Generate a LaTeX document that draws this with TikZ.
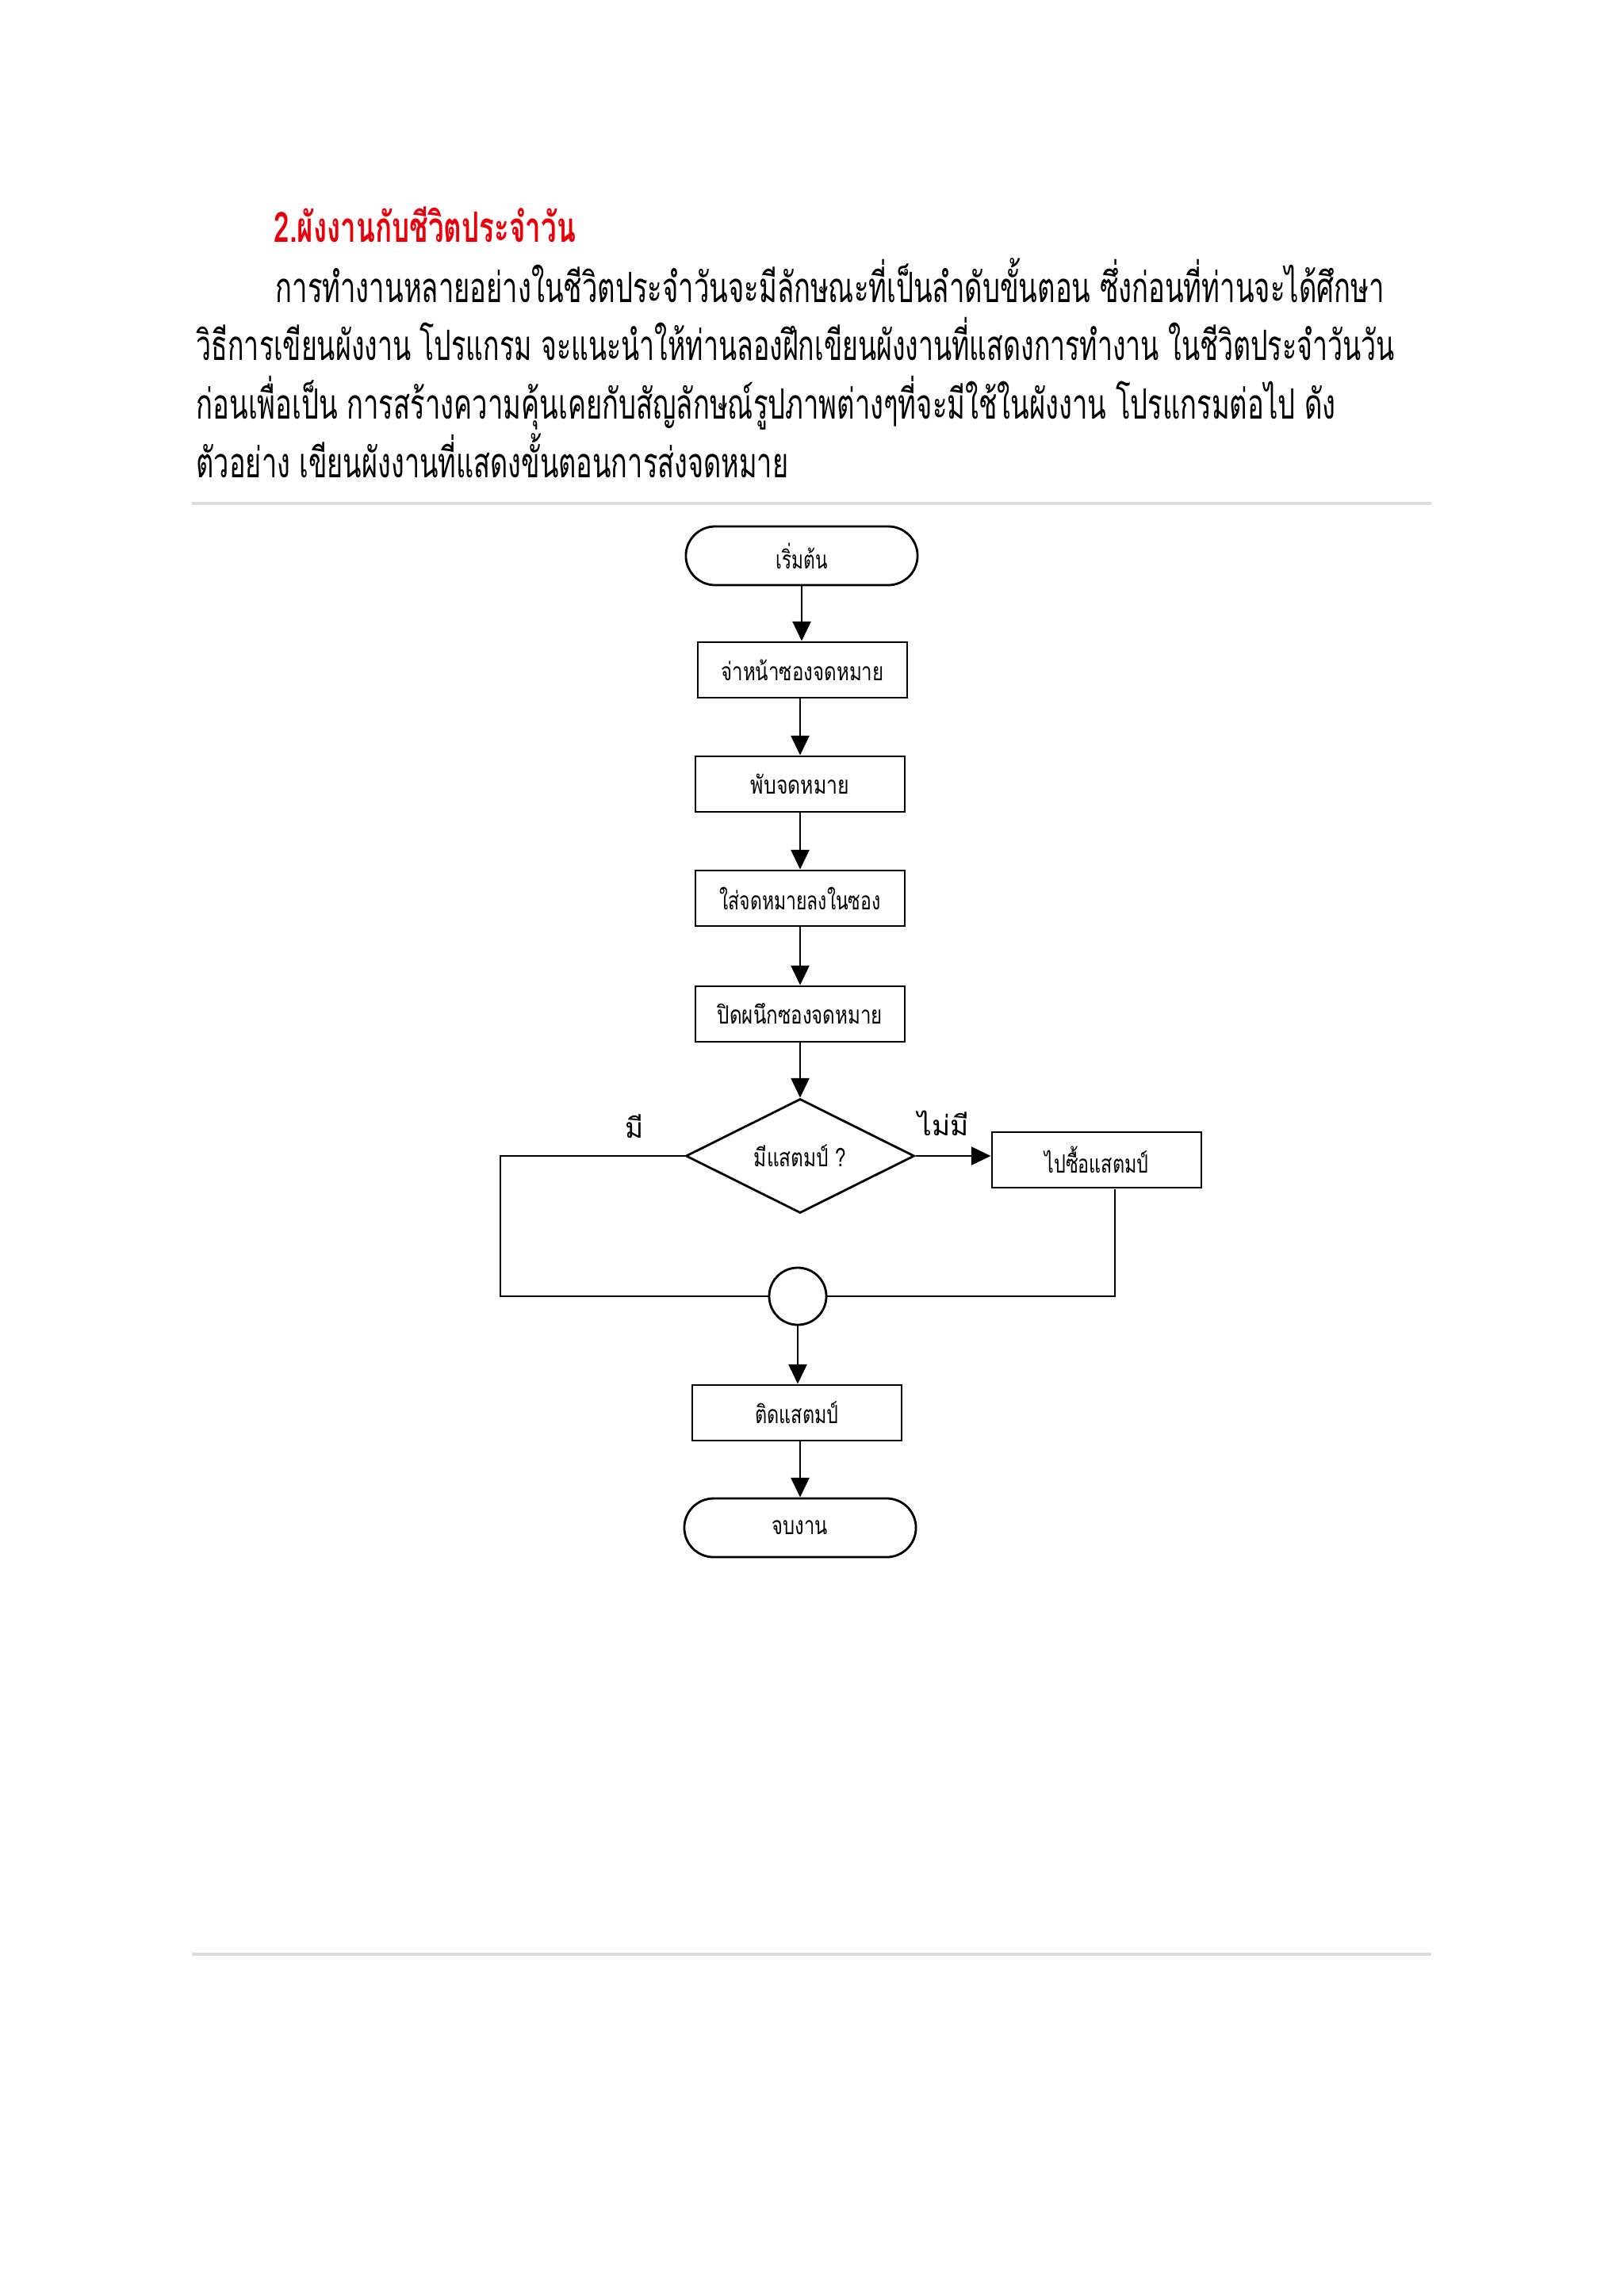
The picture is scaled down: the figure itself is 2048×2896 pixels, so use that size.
\documentclass[tikz,border=0pt]{standalone}
\usepackage{fontspec}
\usepackage{graphicx}
\usetikzlibrary{arrows.meta,shapes.geometric}
\setmainfont{Liberation Serif}
\newfontfamily\thaifont[Script=Thai]{Loma}
\newcommand{\fitw}[2]{\resizebox{#1}{\height}{#2}}
\definecolor{rulegray}{HTML}{DCDCDC}
\definecolor{titlered}{HTML}{E8000B}
\tikzset{
  bodyline/.style={anchor=base west, inner sep=0pt, font=\thaifont\fontsize{15}{18}\selectfont},
  procbox/.style={draw, line width=0.8pt, rectangle, minimum width=2.64cm, minimum height=0.70cm, inner sep=0pt, font=\thaifont\fontsize{9}{10}\selectfont},
  termbox/.style={draw, line width=0.8pt, rectangle, rounded corners=0.37cm, minimum width=2.92cm, minimum height=0.74cm, inner sep=0pt, font=\thaifont\fontsize{9}{10}\selectfont},
  decbox/.style={draw, line width=0.8pt, diamond, aspect=2, minimum width=2.88cm, minimum height=1.44cm, inner sep=0pt, font=\thaifont\fontsize{9}{10}\selectfont},
  joinc/.style={draw, line width=0.8pt, circle, minimum size=0.72cm, inner sep=0pt},
  lbl/.style={inner sep=0pt, font=\thaifont\fontsize{10}{12}\selectfont},
  flow/.style={line width=0.8pt, -{Triangle[length=7pt,width=6.5pt]}},
  link/.style={line width=0.8pt},
  hrule/.style={draw=rulegray, line width=1pt}
}
\begin{document}
\begin{tikzpicture}[x=0.01cm,y=-0.01cm]
\useasboundingbox[fill=white] (0,0) rectangle (2048,2896);

% heading and paragraph
\node[bodyline, font=\thaifont\bfseries\fontsize{15}{18}\selectfont, text=titlered] (title) at (345,305) {\fitw{3.80cm}{2.ผังงานกับชีวิตประจำวัน}};
\node[bodyline] (p1) at (347,381) {\fitw{13.97cm}{การทำงานหลายอย่างในชีวิตประจำวันจะมีลักษณะที่เป็นลำดับขั้นตอน ซึ่งก่อนที่ท่านจะได้ศึกษา}};
\node[bodyline] (p2) at (247,454) {\fitw{15.10cm}{วิธีการเขียนผังงาน โปรแกรม จะแนะนำให้ท่านลองฝึกเขียนผังงานที่แสดงการทำงาน ในชีวิตประจำวันวัน}};
\node[bodyline] (p3) at (247,528) {\fitw{14.36cm}{ก่อนเพื่อเป็น การสร้างความคุ้นเคยกับสัญลักษณ์รูปภาพต่างๆที่จะมีใช้ในผังงาน โปรแกรมต่อไป ดัง}};
\node[bodyline] (p4) at (247,602) {\fitw{7.46cm}{ตัวอย่าง เขียนผังงานที่แสดงขั้นตอนการส่งจดหมาย}};

% separator rules
\coordinate (r1a) at (242,635); \coordinate (r1b) at (1805,635);
\coordinate (r2a) at (242,2465); \coordinate (r2b) at (1805,2465);
\draw[hrule] (r1a) -- (r1b);
\draw[hrule] (r2a) -- (r2b);

% flowchart
\node[termbox] (start) at (1011,701) {\fitw{0.65cm}{เริ่มต้น}};
\node[procbox] (b1) at (1012,845) {\fitw{2.05cm}{จ่าหน้าซองจดหมาย}};
\node[procbox] (b2) at (1009,989) {\fitw{1.24cm}{พับจดหมาย}};
\node[procbox] (b3) at (1009,1133) {\fitw{2.03cm}{ใส่จดหมายลงในซอง}};
\node[procbox] (b4) at (1009,1279) {\fitw{2.08cm}{ปิดผนึกซองจดหมาย}};
\node[decbox] (d) at (1009,1458) {\fitw{1.16cm}{มีแสตมป์ ?}};
\node[procbox] (b5) at (1383,1463) {\fitw{1.31cm}{ไปซื้อแสตมป์}};
\node[joinc] (c) at (1006,1635) {};
\node[procbox] (b6) at (1005,1782) {\fitw{1.05cm}{ติดแสตมป์}};
\node[termbox] (stop) at (1009,1927) {\fitw{0.70cm}{จบงาน}};

\node[lbl] (yes) at (800,1421) {มี};
\node[lbl] (no) at (1190,1417) {ไม่มี};

\coordinate (L) at (631,1458);
\coordinate (R) at (1406,1500);

\draw[flow] (start.south) -- (start.south |- b1.north);
\draw[flow] (b1.south -| b2) -- (b2.north);
\draw[flow] (b2.south) -- (b3.north);
\draw[flow] (b3.south) -- (b4.north);
\draw[flow] (b4.south) -- (d.north);
\draw[flow] (d.east) -- (d.east -| b5.west);
\draw[link] (d.west) -- (d.west -| L) |- (c.west);
\draw[link] (R) |- (c.east);
\draw[flow] (c.south) -- (c.south |- b6.north);
\draw[flow] (b6.south -| stop) -- (stop.north);
\end{tikzpicture}
\end{document}
